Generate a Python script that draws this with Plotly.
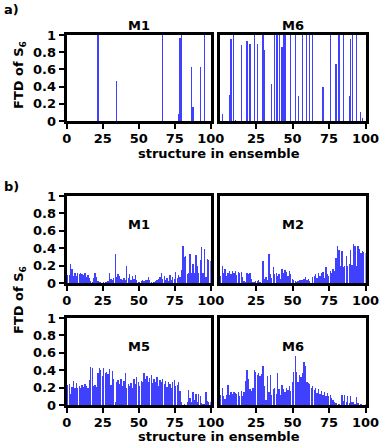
"""
FTD of S6 per structure in ensemble, panels a) and b)
"""
import numpy as np
import plotly.graph_objects as go

W, H = 379, 443

structures = np.arange(100) + 0.5
x_ticks = [0, 25, 50, 75, 100]
y_ticks = [0, 0.2, 0.4, 0.6, 0.8, 1]
y_tick_text = ['0', '0.2', '0.4', '0.6', '0.8', '1']

# panel a)
a_m1 = [
    0, 0, 0, 0, 0, 0, 0, 0, 0, 0,
    0, 0, 0, 0, 0, 0, 0, 0, 0, 0,
    0, 1.0, 0, 0, 0, 0, 0, 0, 0, 0,
    0, 0, 0, 0, 0.47, 0, 0, 0, 0, 0,
    0, 0, 0, 0, 0, 0, 0, 0, 0, 0,
    0, 0, 0, 0, 0, 0, 0, 0, 0, 0,
    0, 0, 0, 0, 0, 0, 1.0, 0, 0, 0,
    0, 0, 0, 0, 0, 0, 0, 0.08, 0.97, 1.0,
    0, 0, 0, 0, 0, 0, 0.63, 0.16, 0, 0,
    0, 0, 0.63, 0, 0, 1.0, 0, 0, 0, 0,
]
a_m6 = [
    0, 0.08, 0, 0, 0, 0, 0.30, 0.95, 0, 1.0,
    0.01, 0, 0, 0, 0.88, 0, 0, 0, 0.93, 0,
    0.90, 0, 0, 1.0, 0, 0.90, 0, 0, 0, 1.0,
    0.82, 0, 0, 0, 0, 0.43, 0, 1.0, 1.0, 1.0,
    1.0, 0, 0.86, 1.0, 1.0, 0, 0, 0, 1.0, 0,
    0, 1.0, 0, 0.29, 0, 0, 1.0, 0, 0, 1.0,
    0, 1.0, 0, 1.0, 0, 0, 0, 0, 0, 0,
    0.39, 0, 0, 0, 0, 1.0, 0, 0, 0, 0.66,
    0, 1.0, 0, 0, 1.0, 0, 0, 0, 0.29, 0.95,
    1.0, 0, 0, 1.0, 0, 0, 0.10, 0.04, 0, 0,
]

# panel b)
b_m1 = [
    0.09, 0.09, 0.22, 0.16, 0.08, 0.12, 0.08, 0.12, 0.10, 0.11,
    0.10, 0.09, 0.11, 0.07, 0.09, 0.06, 0.02, 0.01, 0.06, 0.11,
    0.07, 0.02, 0.01, 0.01, 0.00, 0.01, 0.01, 0.01, 0.02, 0.12,
    0.05, 0.03, 0.06, 0.33, 0.07, 0.10, 0.08, 0.05, 0.03, 0.06,
    0.04, 0.19, 0.06, 0.10, 0.04, 0.08, 0.05, 0.09, 0.04, 0.01,
    0.01, 0.02, 0.03, 0.02, 0.04, 0.03, 0.07, 0.03, 0.01, 0.00,
    0.01, 0.02, 0.03, 0.05, 0.07, 0.12, 0.05, 0.08, 0.03, 0.06,
    0.02, 0.09, 0.04, 0.07, 0.05, 0.13, 0.06, 0.09, 0.07, 0.15,
    0.43, 0.30, 0.31, 0.10, 0.12, 0.33, 0.12, 0.22, 0.12, 0.32,
    0.20, 0.12, 0.27, 0.41, 0.12, 0.39, 0.07, 0.28, 0.26, 0.25,
]
b_m2 = [
    0.08, 0.19, 0.12, 0.16, 0.08, 0.12, 0.14, 0.10, 0.14, 0.12,
    0.14, 0.09, 0.13, 0.12, 0.13, 0.07, 0.02, 0.01, 0.12, 0.10,
    0.12, 0.05, 0.01, 0.01, 0.02, 0.02, 0.03, 0.01, 0.00, 0.25,
    0.05, 0.07, 0.04, 0.33, 0.10, 0.06, 0.18, 0.10, 0.12, 0.08,
    0.10, 0.05, 0.16, 0.12, 0.15, 0.13, 0.08, 0.14, 0.10, 0.05,
    0.03, 0.02, 0.01, 0.02, 0.03, 0.03, 0.04, 0.05, 0.07, 0.03,
    0.05, 0.02, 0.00, 0.07, 0.08, 0.10, 0.06, 0.12, 0.08, 0.11,
    0.13, 0.06, 0.18, 0.10, 0.08, 0.14, 0.12, 0.16, 0.14, 0.29,
    0.42, 0.38, 0.20, 0.37, 0.18, 0.19, 0.31, 0.20, 0.22, 0.38,
    0.21, 0.45, 0.42, 0.20, 0.43, 0.39, 0.35, 0.37, 0.36, 0.34,
]
b_m5 = [
    0.23, 0.24, 0.13, 0.21, 0.28, 0.20, 0.25, 0.19, 0.22, 0.20,
    0.23, 0.21, 0.24, 0.22, 0.20, 0.29, 0.44, 0.42, 0.22, 0.23,
    0.21, 0.37, 0.43, 0.40, 0.33, 0.42, 0.37, 0.38, 0.36, 0.41,
    0.23, 0.39, 0.30, 0.04, 0.26, 0.29, 0.24, 0.30, 0.22, 0.28,
    0.37, 0.20, 0.24, 0.22, 0.25, 0.20, 0.30, 0.24, 0.32, 0.26,
    0.22, 0.28, 0.26, 0.37, 0.30, 0.33, 0.27, 0.31, 0.34, 0.25,
    0.30, 0.26, 0.32, 0.22, 0.29, 0.26, 0.30, 0.24, 0.28, 0.21,
    0.26, 0.24, 0.20, 0.26, 0.29, 0.22, 0.23, 0.27, 0.16, 0.03,
    0.00, 0.01, 0.00, 0.04, 0.17, 0.08, 0.03, 0.15, 0.06, 0.13,
    0.04, 0.13, 0.10, 0.02, 0.01, 0.01, 0.15, 0.05, 0.03, 0.04,
]
b_m6 = [
    0.12, 0.20, 0.10, 0.07, 0.12, 0.23, 0.12, 0.15, 0.13, 0.15,
    0.14, 0.13, 0.15, 0.10, 0.16, 0.10, 0.15, 0.28, 0.40, 0.30,
    0.18, 0.16, 0.20, 0.40, 0.38, 0.35, 0.37, 0.33, 0.36, 0.45,
    0.22, 0.06, 0.33, 0.15, 0.35, 0.12, 0.18, 0.20, 0.13, 0.37,
    0.18, 0.12, 0.23, 0.18, 0.15, 0.20, 0.17, 0.22, 0.16, 0.27,
    0.38, 0.56, 0.38, 0.27, 0.34, 0.32, 0.37, 0.50, 0.45, 0.27,
    0.25, 0.24, 0.20, 0.22, 0.17, 0.19, 0.14, 0.18, 0.13, 0.16,
    0.12, 0.15, 0.10, 0.14, 0.10, 0.12, 0.08, 0.06, 0.04, 0.02,
    0.00, 0.01, 0.00, 0.12, 0.05, 0.11, 0.03, 0.10, 0.02, 0.10,
    0.03, 0.04, 0.01, 0.09, 0.02, 0.00, 0.01, 0.00, 0.00, 0.01,
]

BAR = 'rgba(0,0,255,0.75)'
FONT = dict(family='DejaVu Sans', size=13, color='black', weight='bold')

# pixel boxes of the six panels: (left, right, top, bottom)
left_x, right_x = (66.7, 210.7), (219.5, 365.5)
row_a, row_b1, row_b2 = (35, 121), (196, 283), (318, 405)

panels = [
    ('M1', a_m1, left_x, row_a),
    ('M6', a_m6, right_x, row_a),
    ('M1', b_m1, left_x, row_b1),
    ('M2', b_m2, right_x, row_b1),
    ('M5', b_m5, left_x, row_b2),
    ('M6', b_m6, right_x, row_b2),
]


def label(text, px, py, **kw):
    # text placed by its centre, in pixels from the top-left corner
    return dict(text=text, xref='paper', yref='paper', x=px / W, y=1 - py / H,
                xanchor='center', yanchor='middle', showarrow=False, font=FONT, **kw)


fig = go.Figure()
annotations = []
for i, (name, vals, (x0, x1), (y0, y1)) in enumerate(panels, start=1):
    sfx = '' if i == 1 else str(i)
    is_left = x0 < 100
    fig.add_trace(go.Bar(x=structures, y=vals, width=0.8 if i <= 2 else 0.9,
                         marker_color=BAR, marker_line_width=0,
                         xaxis='x' + sfx, yaxis='y' + sfx, showlegend=False))
    fig.layout['xaxis' + sfx] = dict(
        domain=[x0 / W, x1 / W], anchor='y' + sfx, range=[0, 100],
        tickvals=x_ticks if is_left else x_ticks[1:],
        ticktext=[str(t) for t in (x_ticks if is_left else x_ticks[1:])],
        showline=True, mirror=True, linewidth=3, linecolor='black',
        ticks='outside', ticklen=5, tickwidth=2, tickcolor='black',
        ticklabeloverflow='allow', ticklabelstandoff=-2,
        showgrid=False, zeroline=False, tickfont=FONT, automargin=False)
    fig.layout['yaxis' + sfx] = dict(
        domain=[1 - y1 / H, 1 - y0 / H], anchor='x' + sfx, range=[0, 1],
        tickvals=y_ticks, ticktext=y_tick_text, showticklabels=is_left,
        showline=True, mirror=True, linewidth=3, linecolor='black',
        ticks='outside' if is_left else '', ticklen=5, tickwidth=2,
        tickcolor='black', ticklabeloverflow='allow',
        showgrid=False, zeroline=False, tickfont=FONT, automargin=False)
    if i <= 2:
        annotations.append(label(name, (x0 + x1) / 2, 25))
    else:
        annotations.append(dict(text=name, xref='x' + sfx, yref='y' + sfx,
                                x=50, y=0.67, xanchor='center', yanchor='middle',
                                showarrow=False, font=FONT))

# panel letters and shared axis titles
annotations.append(label('a)', 11, 10))
annotations.append(label('b)', 11, 187))
annotations.append(label('structure in ensemble', 219, 153))
annotations.append(label('structure in ensemble', 219, 436))
annotations.append(label('FTD of S<sub>6</sub>', 19, 75, textangle=-90))
annotations.append(label('FTD of S<sub>6</sub>', 19, 300, textangle=-90))

fig.update_layout(width=W, height=H, margin=dict(l=0, r=0, t=0, b=0),
                  paper_bgcolor='white', plot_bgcolor='white',
                  font=FONT, annotations=annotations, bargap=0)
fig.write_html(
    "out.html",
    config={'displayModeBar': False},
    post_script="document.body.style.margin = '0';"
                "document.body.style.overflow = 'hidden';"
                "document.documentElement.style.overflow = 'hidden';",
)
